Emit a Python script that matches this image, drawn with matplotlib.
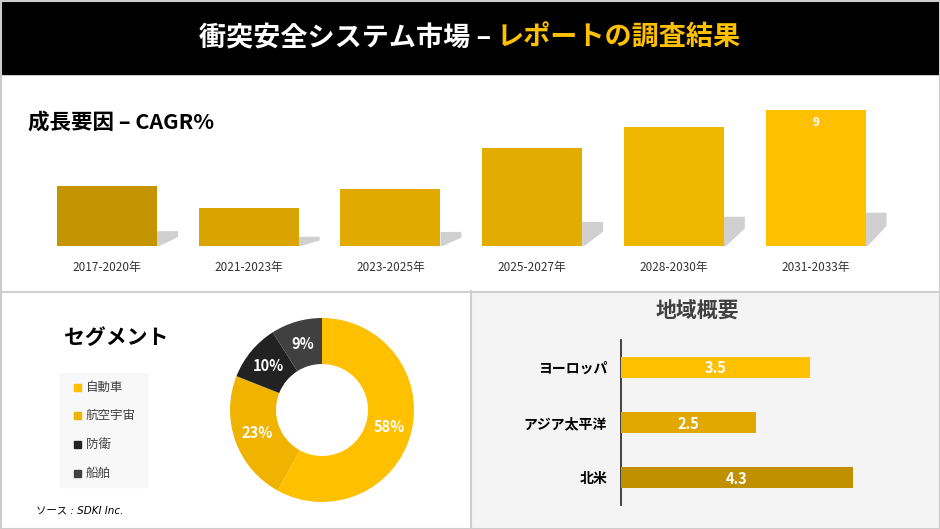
import numpy as np
import matplotlib
matplotlib.use("Agg")
import matplotlib.pyplot as plt
from matplotlib.patches import Rectangle, Polygon

plt.rcParams['font.family'] = ['Noto Sans CJK JP', 'DejaVu Sans']

W, H = 940, 529

# data
periods = ['2017-2020年', '2021-2023年', '2023-2025年', '2025-2027年', '2028-2030年', '2031-2033年']
cagr = [4.0, 2.5, 3.8, 6.5, 7.9, 9.0]
cagr_colors = ['#C49500', '#D9A400', '#E0AA00', '#E2AC00', '#F0B700', '#FFC000']

segments = ['自動車', '航空宇宙', '防衛', '船舶']
seg_share = [58, 23, 10, 9]
seg_colors = ['#FFC000', '#F0B400', '#222222', '#404040']

regions = ['北米', 'アジア太平洋', 'ヨーロッパ']
region_vals = [4.3, 2.5, 3.5]
region_colors = ['#C09000', '#E0A800', '#FFC000']


def px_axes(x0, y0, x1, y1, **kw):
    # pixel box measured from top-left
    return fig.add_axes([x0 / W, 1 - y1 / H, (x1 - x0) / W, (y1 - y0) / H], **kw)


fig = plt.figure(figsize=(9.4, 5.29), dpi=100)
fig.patch.set_facecolor('white')

# background layer
bg = px_axes(0, 0, W, H)
bg.set_xlim(0, W)
bg.set_ylim(H, 0)
bg.axis('off')
bg.add_patch(Rectangle((0, 0), W, 74, color='black'))
bg.add_patch(Rectangle((471, 291), W - 471, H - 291, color='#F4F4F4'))
bg.plot([0, W], [291.5, 291.5], color='#CFCFCF', lw=1.5)
bg.plot([470.5, 470.5], [291, H], color='#CFCFCF', lw=1.5)
bg.add_patch(Rectangle((0.5, 0.5), W - 1, H - 1, fill=False, ec='#CCCCCC', lw=1.5))
bg.add_patch(Rectangle((60, 373), 87, 114, color='#F8F8F8'))

# header title in two colours
t1 = bg.text(0, 38, '衝突安全システム市場 – ', color='white', fontsize=19.5,
             fontweight='bold', va='center', ha='left')
t2 = bg.text(0, 38, 'レポートの調査結果', color='#FFC000', fontsize=19.5,
             fontweight='bold', va='center', ha='left')
r = fig.canvas.get_renderer()
w1 = t1.get_window_extent(r).width
w2 = t2.get_window_extent(r).width
start = (W - w1 - w2) / 2
t1.set_x(start)
t2.set_x(start + w1)

bg.text(28, 122, '成長要因 – CAGR%', fontsize=15.5, fontweight='bold', va='center', ha='left')
bg.text(64, 337, 'セグメント', fontsize=15, fontweight='bold', va='center', ha='left')
bg.text(36, 510, 'ソース : SDKI Inc.', fontsize=7.5, style='italic', va='center', ha='left',
        family=['DejaVu Sans', 'Noto Sans CJK JP'])
bg.text(697, 311, '地域概要', fontsize=15, fontweight='bold', color='#404040', va='center', ha='center')

# legend
for i, (name, c) in enumerate(zip(segments, seg_colors)):
    y = 387 + i * 28.7
    bg.add_patch(Rectangle((74, y - 3.5), 7, 7, color=c))
    bg.text(86, y, name, fontsize=9, color='#404040', va='center', ha='left')

# CAGR bars
ax1 = px_axes(36.15, 110, 886.4, 246)
x = np.arange(len(periods))
ax1.bar(x, cagr, width=0.706, color=cagr_colors, zorder=3)
for xi, v in zip(x, cagr):
    rgt = xi + 0.353
    sh = v * 0.245
    dx = 21 / 141.7
    ax1.add_patch(Polygon([(rgt, 0), (rgt, sh), (rgt + dx, sh), (rgt + dx, sh * 0.6),
                           (rgt + 0.1 * dx, 0)],
                          closed=True, color='#D0D0D0', zorder=2, clip_on=False, lw=0))
ax1.text(x[-1], cagr[-1] - 0.85, f'{cagr[-1]:g}', color='white', fontsize=8.5,
         fontweight='bold', ha='center', va='center', zorder=4)
ax1.set_xlim(-0.5, 5.5)
ax1.set_ylim(0, 9)
ax1.set_xticks(x)
ax1.set_xticklabels(periods, fontsize=8.5, color='#333333')
ax1.tick_params(axis='x', length=0, pad=10.5)
ax1.set_yticks([])
for s in ax1.spines.values():
    s.set_visible(False)
ax1.patch.set_alpha(0)

# donut
ax2 = px_axes(230, 318, 414, 502)
wedges, _, autotexts = ax2.pie(seg_share, colors=seg_colors, startangle=90, counterclock=False,
                               radius=1, autopct='%d%%', pctdistance=0.75,
                               wedgeprops=dict(width=0.5, edgecolor='none'),
                               textprops=dict(color='white', fontsize=10.5, fontweight='bold'))
ax2.set_xlim(-1, 1)
ax2.set_ylim(-1, 1)
ax2.set_aspect('equal')

# regional bars
ax3 = px_axes(621, 340, 891, 505)
y = np.arange(len(regions))
ax3.barh(y, region_vals, height=0.38, color=region_colors, zorder=3)
for yi, v in zip(y, region_vals):
    ax3.text(v / 2, yi - 0.02, f'{v:g}', color='white', fontsize=10.5, fontweight='bold',
             ha='center', va='center', zorder=4)
ax3.set_xlim(0, 5)
ax3.set_ylim(-0.49, 2.49)
ax3.set_yticks(y)
ax3.set_yticklabels(regions, fontsize=10, fontweight='bold')
ax3.tick_params(axis='y', length=0, pad=10)
ax3.set_xticks([])
for k in ['top', 'right', 'bottom']:
    ax3.spines[k].set_visible(False)
ax3.spines['left'].set_color('#333333')
ax3.spines['left'].set_linewidth(1.3)
ax3.patch.set_alpha(0)

fig.savefig('out.png', dpi=100)
